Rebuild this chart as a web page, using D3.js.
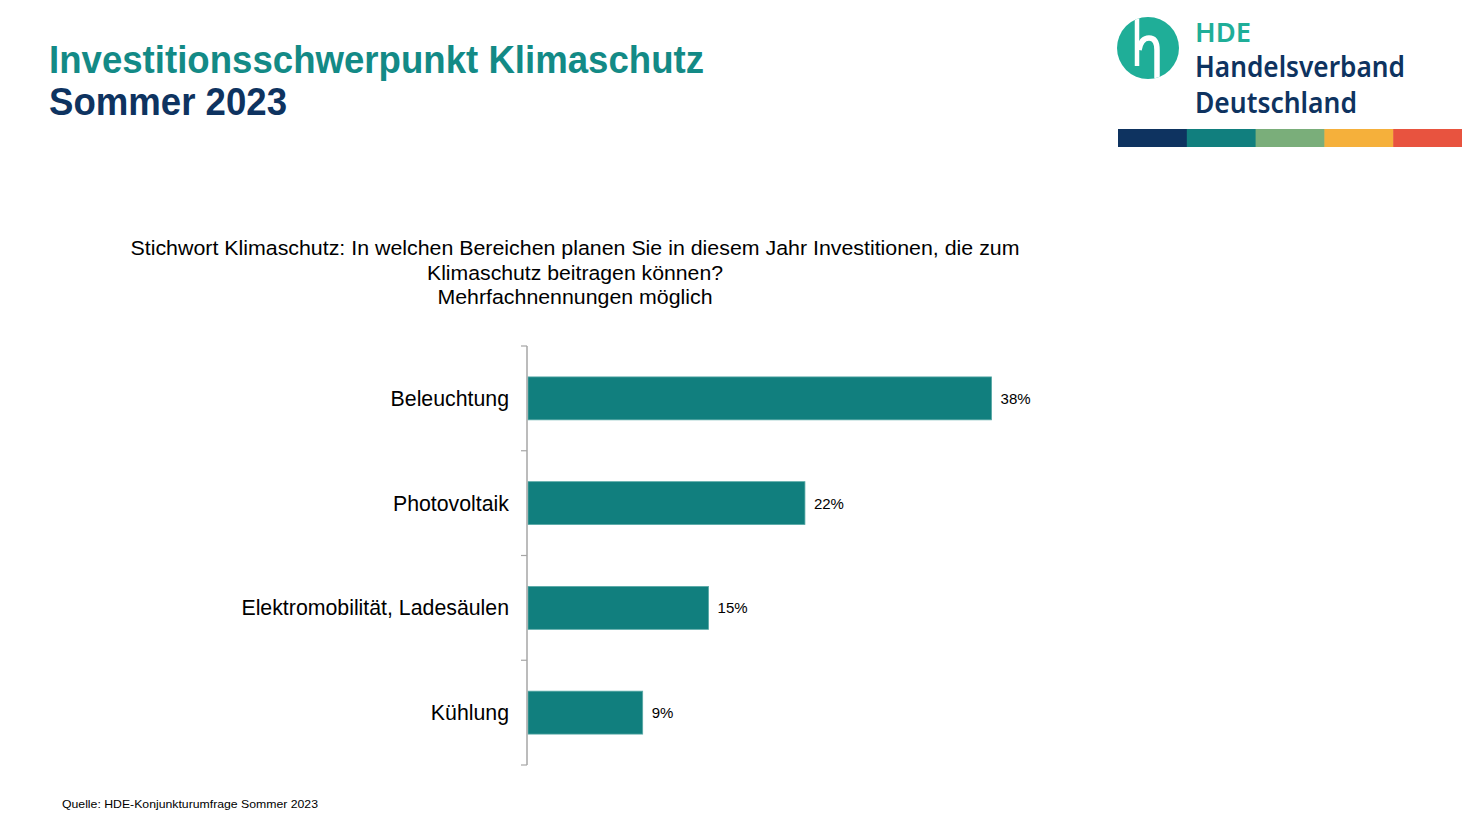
<!DOCTYPE html>
<html><head><meta charset="utf-8">
<script src="https://cdn.jsdelivr.net/npm/d3@7"></script>
<style>html,body{margin:0;padding:0;background:#fff;}svg{display:block;}</style>
</head><body>
<svg id="c" width="1462" height="820"></svg>
<script>
const categories = ["Beleuchtung","Photovoltaik","Elektromobilität, Ladesäulen","Kühlung"];
const values = [38.0, 22.7, 14.8, 9.4];
const valueLabels = ["38%","22%","15%","9%"];
const titleLines = ["Investitionsschwerpunkt Klimaschutz","Sommer 2023"];
const questionLines = ["Stichwort Klimaschutz: In welchen Bereichen planen Sie in diesem Jahr Investitionen, die zum","Klimaschutz beitragen können?","Mehrfachnennungen möglich"];
const sourceText = "Quelle: HDE-Konjunkturumfrage Sommer 2023";
const stripeColors = ["#0e3360","#117f7e","#7aae7a","#f5b03b","#e8533f"];

const svg = d3.select("#c");
const F = "'Liberation Sans', Arial, sans-serif";

// Title
svg.append("text").attr("x",49).attr("y",73).attr("font-family",F).attr("font-weight","bold")
  .attr("font-size",38).attr("fill","#138a86").attr("textLength",655).attr("lengthAdjust","spacingAndGlyphs").text(titleLines[0]);
svg.append("text").attr("x",49).attr("y",115).attr("font-family",F).attr("font-weight","bold")
  .attr("font-size",38).attr("fill","#0e3360").attr("textLength",238).attr("lengthAdjust","spacingAndGlyphs").text(titleLines[1]);

// Logo
const clip = svg.append("defs").append("clipPath").attr("id","lc");
clip.append("circle").attr("cx",1148).attr("cy",48).attr("r",31);
svg.append("circle").attr("cx",1148).attr("cy",48).attr("r",31).attr("fill","#1fae98");
const lg = svg.append("g").attr("clip-path","url(#lc)");
lg.append("path").attr("d","M1137,10 L1137,66").attr("stroke","#fff").attr("stroke-width",4.5).attr("fill","none");
lg.append("path").attr("d","M1139,50 Q1141,38 1149,38 Q1157,38 1157,50 L1157,90").attr("stroke","#fff").attr("stroke-width",5.5).attr("fill","none");
const LF = "'Noto Sans', 'Open Sans', sans-serif";
svg.append("text").attr("x",1195).attr("y",42).attr("font-family",LF).attr("font-weight",600).attr("font-size",27).attr("fill","#1fae98")
  .attr("textLength",56).attr("lengthAdjust","spacingAndGlyphs").text("HDE");
svg.append("text").attr("x",1195).attr("y",77).attr("font-family",LF).attr("font-weight",600).attr("font-size",28).attr("fill","#0e3360")
  .attr("textLength",210).attr("lengthAdjust","spacingAndGlyphs").text("Handelsverband");
svg.append("text").attr("x",1195).attr("y",113).attr("font-family",LF).attr("font-weight",600).attr("font-size",28).attr("fill","#0e3360")
  .attr("textLength",162).attr("lengthAdjust","spacingAndGlyphs").text("Deutschland");
const sx = d3.scaleBand().domain(d3.range(stripeColors.length)).range([1118,1462]);
svg.selectAll("rect.stripe").data(stripeColors).join("rect").attr("class","stripe")
  .attr("x",(d,i)=>sx(i)).attr("y",129).attr("width",sx.bandwidth()+0.5).attr("height",18).attr("fill",d=>d);

// Question
const qWidths = [889, 296, 275];
svg.selectAll("text.q").data(questionLines).join("text").attr("class","q")
  .attr("x",575).attr("y",(d,i)=>255+i*24.5).attr("text-anchor","middle").attr("font-family",F)
  .attr("font-size",20.5).attr("fill","#000")
  .attr("textLength",(d,i)=>qWidths[i]).attr("lengthAdjust","spacingAndGlyphs").text(d=>d);

// Chart
const y = d3.scaleBand().domain(categories).range([346,765]).paddingInner(0.59).paddingOuter(0.295);
const x = d3.scaleLinear().domain([0,40]).range([528,1016]);

svg.selectAll("rect.bar").data(values).join("rect").attr("class","bar")
  .attr("x",x(0)).attr("y",(d,i)=>y(categories[i])).attr("width",d=>x(d)-x(0)).attr("height",y.bandwidth())
  .attr("fill","#117f7e").attr("stroke","#5aaaa7").attr("stroke-width",0.8);

// axis with ticks between categories
const axisG = svg.append("g");
axisG.append("line").attr("x1",527).attr("x2",527).attr("y1",346).attr("y2",765).attr("stroke","#a6a6a6").attr("stroke-width",1.5);
const bounds = d3.range(categories.length+1).map(i=>346 + i*y.step());
axisG.selectAll("line.t").data(bounds).join("line").attr("class","t")
  .attr("x1",521).attr("x2",527).attr("y1",d=>d).attr("y2",d=>d).attr("stroke","#a6a6a6").attr("stroke-width",1.2);

svg.selectAll("text.cat").data(categories).join("text").attr("class","cat")
  .attr("x",509).attr("y",d=>y(d)+y.bandwidth()/2+7.5).attr("text-anchor","end").attr("font-family",F)
  .attr("font-size",21.3).attr("fill","#000").text(d=>d);

svg.selectAll("text.val").data(values).join("text").attr("class","val")
  .attr("x",d=>x(d)+9).attr("y",(d,i)=>y(categories[i])+y.bandwidth()/2+5.5).attr("font-family",F)
  .attr("font-size",15).attr("fill","#000").text((d,i)=>valueLabels[i]);

// Source
svg.append("text").attr("x",62).attr("y",808).attr("font-family",F).attr("font-size",11.5).attr("fill","#000")
  .attr("textLength",256).attr("lengthAdjust","spacingAndGlyphs").text(sourceText);
</script>
</body></html>
